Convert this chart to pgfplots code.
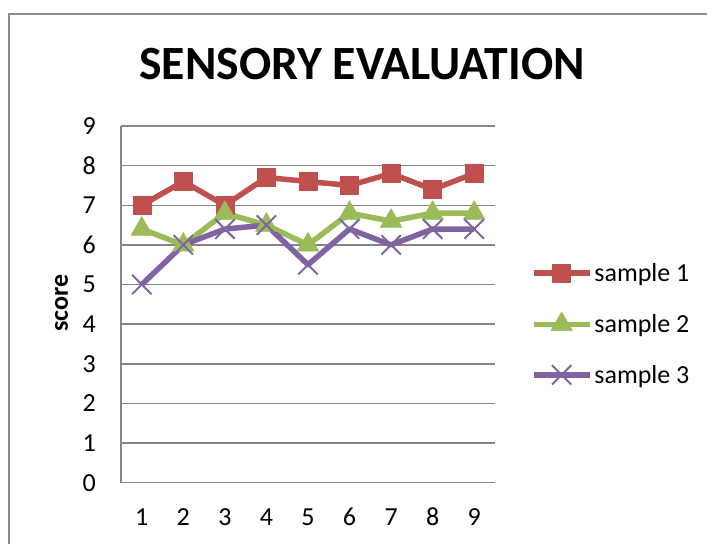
\documentclass[border=0pt]{standalone}
\usepackage{fontspec}
\setmainfont{Carlito}
\usepackage{pgfplots}
\pgfplotsset{compat=1.18}
\definecolor{s1}{HTML}{C0504D}
\definecolor{s2}{HTML}{9BBB59}
\definecolor{s3}{HTML}{8064A2}
\definecolor{gridc}{HTML}{868686}
\definecolor{borderc}{HTML}{8C8C8C}
\begin{document}
\begin{tikzpicture}[x=1pt,y=1pt]
\path[use as bounding box] (0pt,0pt) rectangle (707pt,544pt);
\draw[borderc, line width=2pt] (9.3pt,0pt) -- (9.3pt,529.7pt) -- (707pt,529.7pt);
\node[anchor=base, inner sep=0pt, font=\bfseries\fontsize{47.7}{50}\selectfont] at (362pt,464pt) {SENSORY EVALUATION};
\begin{axis}[
  at={(121pt,61.3pt)}, anchor=south west, scale only axis,
  width=374pt, height=356.7pt,
  xmin=0.5, xmax=9.5, ymin=0, ymax=9,
  xtick={1,...,9}, ytick={0,...,9},
  axis x line*=bottom, axis y line*=left,
  axis line style={gridc, line width=1.5pt, -},
  ymajorgrids, grid style={gridc, line width=1.5pt},
  major tick length=0pt,
  clip=false,
  /pgf/number format/assume math mode=true,
  tick label style={font=\fontsize{26}{30}\selectfont, inner sep=0pt, text=black},
  xticklabel style={anchor=base, yshift=-43pt},
  yticklabel style={anchor=east, xshift=-25pt},
  ylabel={score},
  ylabel style={font=\bfseries\fontsize{26}{30}\selectfont, at={(axis description cs:-0.159,0.503)}, anchor=center},
  legend style={at={(axis description cs:1.096,0.445)}, anchor=west, draw=none, fill=none,
    inner sep=0pt, outer sep=0pt, font=\fontsize{26}{30}\selectfont, row sep=27pt,
    /tikz/every even column/.append style={column sep=3pt}},
  legend cell align=left,
  legend image code/.code={\draw[mark repeat=2,mark phase=2,#1] plot coordinates {(0pt,0pt) (28pt,0pt) (56pt,0pt)};},
]
\addplot[s1, line width=5.5pt, line join=round, mark=square*, mark size=9pt,
  mark options={solid, line width=0.5pt, fill=s1, draw=s1}]
  coordinates {(1,7.0)(2,7.6)(3,7.0)(4,7.7)(5,7.6)(6,7.5)(7,7.8)(8,7.4)(9,7.8)};
\addlegendentry{sample 1}
\addplot[s2, line width=5.5pt, line join=round, mark=triangle*, mark size=12.5pt,
  mark options={solid, line width=0.5pt, fill=s2, draw=s2}]
  coordinates {(1,6.4)(2,6.0)(3,6.8)(4,6.5)(5,6.0)(6,6.8)(7,6.6)(8,6.8)(9,6.8)};
\addlegendentry{sample 2}
\addplot[s3, line width=5.5pt, line join=round, mark=x, mark size=13.7pt,
  mark options={solid, line width=2pt, draw=s3}]
  coordinates {(1,5.0)(2,6.0)(3,6.4)(4,6.5)(5,5.5)(6,6.4)(7,6.0)(8,6.4)(9,6.4)};
\addlegendentry{sample 3}
\end{axis}
\end{tikzpicture}
\end{document}
